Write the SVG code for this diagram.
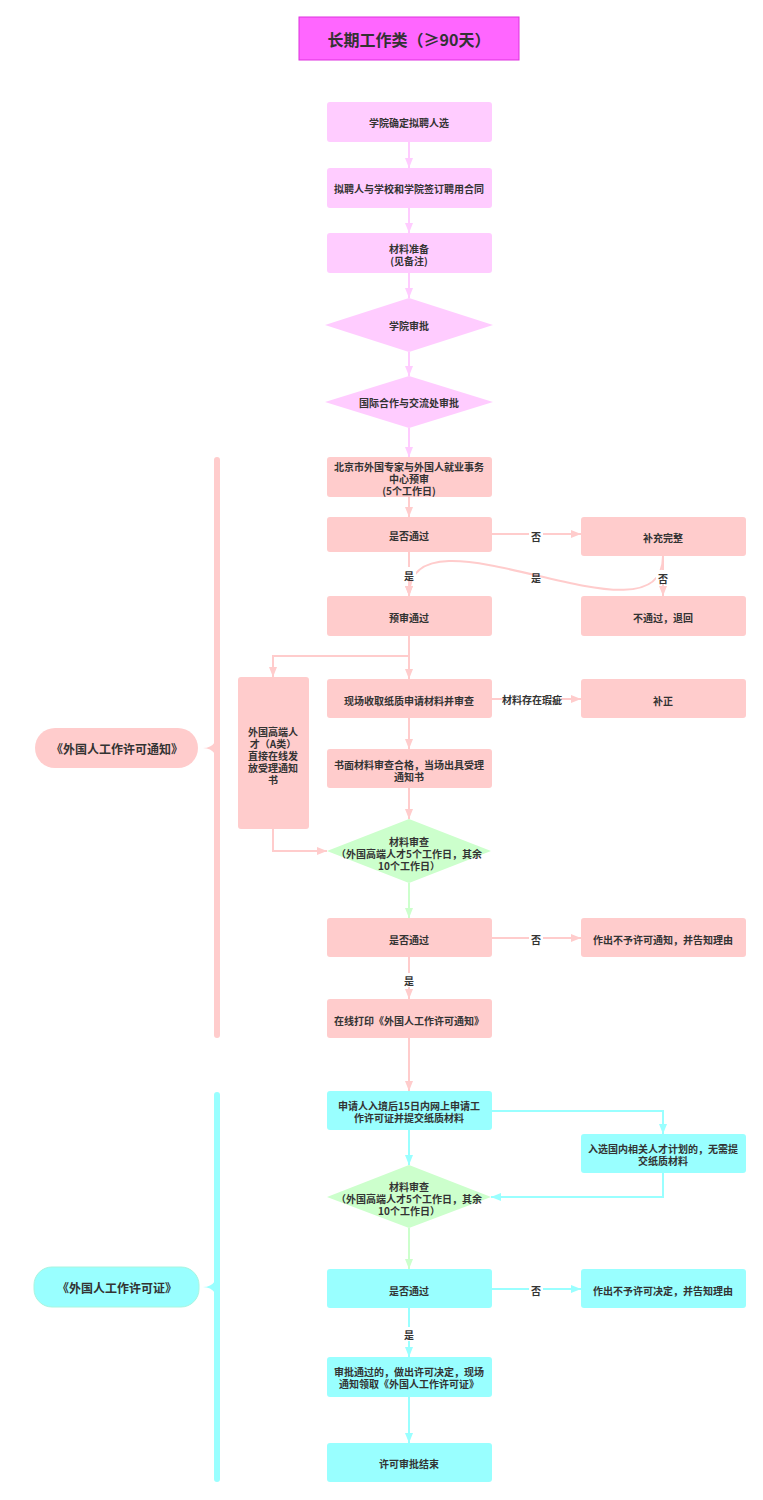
<svg xmlns="http://www.w3.org/2000/svg" width="763" height="1500" viewBox="0 0 763 1500">
<style>
text{font-family:"Noto Sans CJK SC","Noto Sans",sans-serif;font-weight:bold;fill:#333;font-size:10px;text-anchor:middle;dominant-baseline:central}
.t{font-size:16px}
.lab{font-size:12px}
.v{fill:#ffccff}
.p{fill:#ffcccc}
.g{fill:#ccffcc}
.c{fill:#99ffff}
.cv{stroke:#ffccff}
.cp{stroke:#ffcccc}
.cg{stroke:#ccffcc}
.cc{stroke:#99ffff}
#edges path{fill:none;stroke-width:2}
.bg{fill:#fff}
</style>
<defs>
<marker id="av" markerUnits="userSpaceOnUse" markerWidth="10" markerHeight="8" refX="10" refY="4" orient="auto"><path d="M0,0L10,4L0,8z" fill="#ffccff"/></marker>
<marker id="ap" markerUnits="userSpaceOnUse" markerWidth="10" markerHeight="8" refX="10" refY="4" orient="auto"><path d="M0,0L10,4L0,8z" fill="#ffcccc"/></marker>
<marker id="ag" markerUnits="userSpaceOnUse" markerWidth="10" markerHeight="8" refX="10" refY="4" orient="auto"><path d="M0,0L10,4L0,8z" fill="#ccffcc"/></marker>
<marker id="ac" markerUnits="userSpaceOnUse" markerWidth="10" markerHeight="8" refX="10" refY="4" orient="auto"><path d="M0,0L10,4L0,8z" fill="#99ffff"/></marker>
</defs>
<rect width="763" height="1500" fill="#fff"/>

<g id="brackets">
<rect x="214" y="457" width="6" height="581" rx="3" class="p"/>
<path d="M215,742 Q211,748 203,748 Q211,748 215,754 Z" class="p"/>
<rect x="214" y="1092" width="6" height="390" rx="3" class="c"/>
<path d="M215,1281 Q211,1287 203,1287 Q211,1287 215,1293 Z" class="c"/>
</g>

<g id="edges">
<path class="cv" d="M409,142V168" marker-end="url(#av)"/>
<path class="cv" d="M409,208V233" marker-end="url(#av)"/>
<path class="cv" d="M409,273V298" marker-end="url(#av)"/>
<path class="cv" d="M409,352V376" marker-end="url(#av)"/>
<path class="cv" d="M409,428V457" marker-end="url(#av)"/>
<path class="cp" d="M409,497V517" marker-end="url(#ap)"/>
<path class="cp" d="M491,534H581" marker-end="url(#ap)"/>
<path class="cp" d="M409,552V596" marker-end="url(#ap)"/>
<path class="cp" d="M663,556V596" marker-end="url(#ap)"/>
<path class="cp" d="M663,556C663,655 409,495 409,596" marker-end="url(#ap)"/>
<path class="cp" d="M409,636V679" marker-end="url(#ap)"/>
<path class="cp" d="M409,656H273V677" marker-end="url(#ap)"/>
<path class="cp" d="M491,699H581" marker-end="url(#ap)"/>
<path class="cp" d="M409,718V749" marker-end="url(#ap)"/>
<path class="cp" d="M409,788V819" marker-end="url(#ap)"/>
<path class="cp" d="M273,829V851H327" marker-end="url(#ap)"/>
<path class="cg" d="M409,883V918" marker-end="url(#ag)"/>
<path class="cp" d="M491,938H581" marker-end="url(#ap)"/>
<path class="cp" d="M409,957V999" marker-end="url(#ap)"/>
<path class="cp" d="M409,1038V1091" marker-end="url(#ap)"/>
<path class="cc" d="M491,1111H663V1134" marker-end="url(#ac)"/>
<path class="cc" d="M409,1130V1165" marker-end="url(#ac)"/>
<path class="cc" d="M663,1173V1197H491" marker-end="url(#ac)"/>
<path class="cg" d="M409,1228V1269" marker-end="url(#ag)"/>
<path class="cc" d="M491,1289H581" marker-end="url(#ac)"/>
<path class="cc" d="M409,1308V1357" marker-end="url(#ac)"/>
<path class="cc" d="M409,1397V1443" marker-end="url(#ac)"/>
<g id="edge-labels">
<rect class="bg" x="529" y="528" width="14" height="14"/><text x="536" y="536">否</text>
<rect class="bg" x="402" y="567" width="14" height="14"/><text x="409" y="575">是</text>
<rect class="bg" x="656" y="570" width="14" height="14"/><text x="663" y="578">否</text>
<text x="536" y="577">是</text>
<rect class="bg" x="503" y="692" width="58" height="14"/><text x="532" y="699">材料存在瑕疵</text>
<rect class="bg" x="529" y="932" width="14" height="14"/><text x="536" y="939">否</text>
<rect class="bg" x="402" y="973" width="14" height="14"/><text x="409" y="980">是</text>
<rect class="bg" x="529" y="1283" width="14" height="14"/><text x="536" y="1290">否</text>
<rect class="bg" x="402" y="1327" width="14" height="14"/><text x="409" y="1334">是</text>
</g>
</g>

<g id="title"><rect x="299" y="17" width="220" height="43" fill="#ff66ff" stroke="#dd33dd" stroke-width="1"/><text class="t" x="409" y="39">长期工作类（≥90天）</text></g>

<g id="n1"><rect class="v" x="327" y="102" width="165" height="40" rx="3"/><text x="409" y="122">学院确定拟聘人选</text></g>
<g id="n2"><rect class="v" x="327" y="168" width="165" height="40" rx="3"/><text x="409" y="188">拟聘人与学校和学院签订聘用合同</text></g>
<g id="n3"><rect class="v" x="327" y="233" width="165" height="40" rx="3"/><text x="409" y="248">材料准备</text><text x="409" y="260">(见备注)</text></g>
<g id="d1"><path class="v" d="M409,298L493,325L409,352L325,325Z"/><text x="409" y="325">学院审批</text></g>
<g id="d2"><path class="v" d="M409,376L493,402L409,428L325,402Z"/><text x="409" y="402">国际合作与交流处审批</text></g>

<g id="label1"><rect class="p" x="35" y="728" width="163" height="40" rx="20"/><text class="lab" x="117" y="748">《外国人工作许可通知》</text></g>

<g id="n4"><rect class="p" x="327" y="457" width="165" height="40" rx="3"/><text x="409" y="466">北京市外国专家与外国人就业事务</text><text x="409" y="478">中心预审</text><text x="409" y="490">(5个工作日)</text></g>
<g id="n5"><rect class="p" x="327" y="517" width="165" height="35" rx="3"/><text x="409" y="535">是否通过</text></g>
<g id="n6"><rect class="p" x="581" y="517" width="165" height="39" rx="3"/><text x="663" y="537">补充完整</text></g>
<g id="n7"><rect class="p" x="327" y="596" width="165" height="40" rx="3"/><text x="409" y="617">预审通过</text></g>
<g id="n8"><rect class="p" x="581" y="596" width="165" height="40" rx="3"/><text x="663" y="617">不通过，退回</text></g>
<g id="n9"><rect class="p" x="238" y="677" width="71" height="152" rx="3"/><text x="273" y="731">外国高端人</text><text x="273" y="743">才（A类）</text><text x="273" y="755">直接在线发</text><text x="273" y="767">放受理通知</text><text x="273" y="779">书</text></g>
<g id="n10"><rect class="p" x="327" y="679" width="165" height="39" rx="3"/><text x="409" y="700">现场收取纸质申请材料并审查</text></g>
<g id="n11"><rect class="p" x="581" y="679" width="165" height="39" rx="3"/><text x="663" y="700">补正</text></g>
<g id="n12"><rect class="p" x="327" y="749" width="165" height="39" rx="3"/><text x="409" y="764">书面材料审查合格，当场出具受理</text><text x="409" y="776">通知书</text></g>
<g id="d3"><path class="g" d="M409,819L491,851L409,883L327,851Z"/><text x="409" y="841">材料审查</text><text x="409" y="853">（外国高端人才5个工作日，其余</text><text x="409" y="865">10个工作日）</text></g>
<g id="n13"><rect class="p" x="327" y="918" width="165" height="39" rx="3"/><text x="409" y="939">是否通过</text></g>
<g id="n14"><rect class="p" x="581" y="918" width="165" height="39" rx="3"/><text x="663" y="939">作出不予许可通知，并告知理由</text></g>
<g id="n15"><rect class="p" x="327" y="999" width="165" height="39" rx="3"/><text x="409" y="1020">在线打印《外国人工作许可通知》</text></g>

<g id="label2"><rect class="c" x="34" y="1267" width="165" height="40" rx="18" stroke="#a8f5e0" stroke-width="1"/><text class="lab" x="117" y="1287">《外国人工作许可证》</text></g>

<g id="n16"><rect class="c" x="327" y="1091" width="165" height="39" rx="3"/><text x="409" y="1105">申请人入境后15日内网上申请工</text><text x="409" y="1117">作许可证并提交纸质材料</text></g>
<g id="n17"><rect class="c" x="581" y="1134" width="165" height="39" rx="3"/><text x="663" y="1148">入选国内相关人才计划的，无需提</text><text x="663" y="1160">交纸质材料</text></g>
<g id="d4"><path class="g" d="M409,1165L491,1197L409,1228L327,1197Z"/><text x="409" y="1186">材料审查</text><text x="409" y="1198">（外国高端人才5个工作日，其余</text><text x="409" y="1210">10个工作日）</text></g>
<g id="n18"><rect class="c" x="327" y="1269" width="165" height="39" rx="3"/><text x="409" y="1290">是否通过</text></g>
<g id="n19"><rect class="c" x="581" y="1269" width="165" height="39" rx="3"/><text x="663" y="1290">作出不予许可决定，并告知理由</text></g>
<g id="n20"><rect class="c" x="327" y="1357" width="165" height="40" rx="3"/><text x="409" y="1371">审批通过的，做出许可决定，现场</text><text x="409" y="1383">通知领取《外国人工作许可证》</text></g>
<g id="n21"><rect class="c" x="327" y="1443" width="165" height="39" rx="3"/><text x="409" y="1463">许可审批结束</text></g>
</svg>
